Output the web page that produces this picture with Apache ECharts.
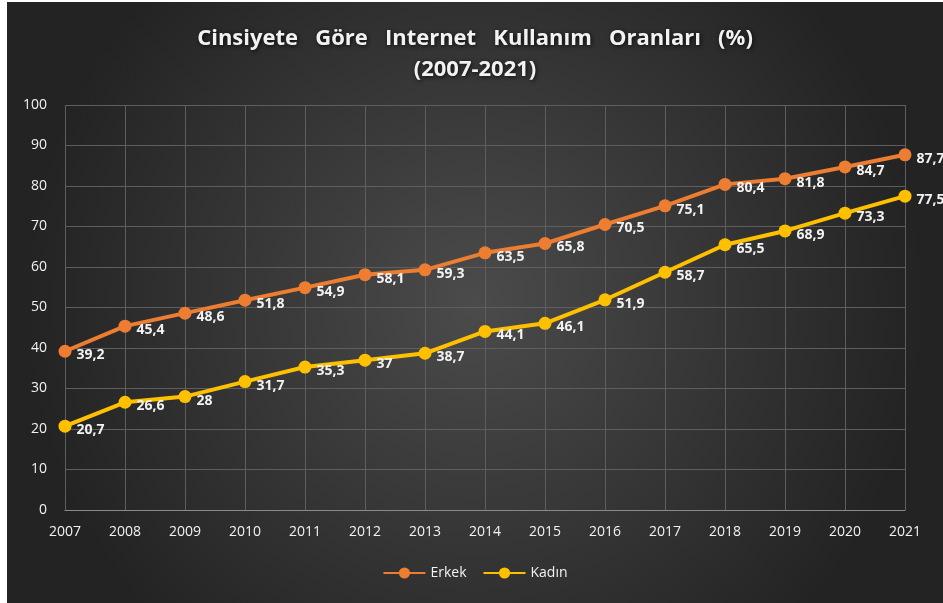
<!DOCTYPE html>
<html>
<head>
<meta charset="utf-8">
<script src="https://cdn.jsdelivr.net/npm/echarts@6/dist/echarts.min.js"></script>
<style>
  html, body { margin: 0; padding: 0; background: #fff; }
  #chart { position: absolute; left: 7px; top: 2px; width: 936px; height: 601px; }
</style>
</head>
<body>
<div id="chart"></div>
<script>
const years = ['2007', '2008', '2009', '2010', '2011', '2012', '2013', '2014', '2015', '2016', '2017', '2018', '2019', '2020', '2021']
const erkek = [39.2, 45.4, 48.6, 51.8, 54.9, 58.1, 59.3, 63.5, 65.8, 70.5, 75.1, 80.4, 81.8, 84.7, 87.7]
const kadin = [20.7, 26.6, 28, 31.7, 35.3, 37, 38.7, 44.1, 46.1, 51.9, 58.7, 65.5, 68.9, 73.3, 77.5]

const chart = echarts.init(document.getElementById('chart'))

function makeSeries(name, data, color) {
  return {
    name: name,
    type: 'line',
    data: data,
    symbol: 'circle',
    symbolSize: 13,
    lineStyle: { color: color, width: 4 },
    itemStyle: { color: color },
    label: {
      show: true,
      position: 'right',
      distance: 5,
      offset: [0, 4],
      color: '#f2f2f2',
      fontFamily: 'Open Sans',
      fontWeight: 'bold',
      fontSize: 14,
      formatter: p => String(p.value).replace('.', ',')
    },
    animation: false
  }
}

chart.setOption({
  backgroundColor: {
    type: 'radial', x: 0.5, y: 0.5, r: 0.75,
    colorStops: [
      { offset: 0, color: '#4b4b4b' },
      { offset: 1, color: '#232323' }
    ]
  },
  title: {
    text: 'Cinsiyete   Göre   Internet   Kullanım   Oranları   (%)\n(2007-2021)',
    left: 'center',
    top: 16,
    textStyle: {
      color: '#f2f2f2',
      fontFamily: 'Open Sans',
      fontWeight: 'bold',
      fontSize: 22,
      lineHeight: 31,
      textShadowColor: 'rgba(0,0,0,0.8)',
      textShadowBlur: 4,
      textShadowOffsetX: 1,
      textShadowOffsetY: 1
    }
  },
  grid: { left: 58, right: 38, top: 103, bottom: 93 },
  xAxis: {
    type: 'category',
    data: years,
    boundaryGap: false,
    axisLine: { lineStyle: { color: '#8a8a8a', width: 1 } },
    axisTick: { show: false },
    axisLabel: { color: '#f2f2f2', fontFamily: 'Open Sans', fontSize: 14, margin: 15 },
    splitLine: { show: true, lineStyle: { color: '#5e5e5e', width: 1 } }
  },
  yAxis: {
    type: 'value',
    min: 0,
    max: 100,
    interval: 10,
    axisLine: { show: false },
    axisTick: { show: false },
    axisLabel: { color: '#f2f2f2', fontFamily: 'Open Sans', fontSize: 14, margin: 18 },
    splitLine: { lineStyle: { color: '#5e5e5e', width: 1 } }
  },
  legend: {
    bottom: 18,
    left: 'center',
    itemWidth: 42,
    itemHeight: 14,
    itemGap: 16,
    textStyle: { color: '#f2f2f2', fontFamily: 'Open Sans', fontSize: 14 },
    data: ['Erkek', 'Kadın']
  },
  series: [
    makeSeries('Erkek', erkek, '#ed7d31'),
    makeSeries('Kadın', kadin, '#ffc000')
  ]
})
</script>
</body>
</html>
